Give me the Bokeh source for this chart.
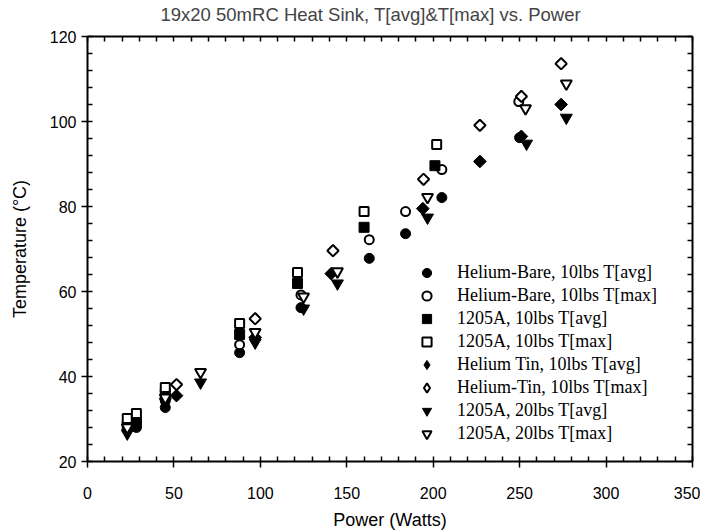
import math
from bokeh.plotting import figure
from bokeh.models import LinearAxis, Legend, LegendItem, Range1d, SingleIntervalTicker
from bokeh.embed import file_html
from bokeh.resources import INLINE

# ---- data ----
series_labels = [
    "Helium-Bare, 10lbs T[avg]",
    "Helium-Bare, 10lbs T[max]",
    "1205A, 10lbs T[avg]",
    "1205A, 10lbs T[max]",
    "Helium Tin, 10lbs T[avg]",
    "Helium-Tin, 10lbs T[max]",
    "1205A, 20lbs T[avg]",
    "1205A, 20lbs T[max]",
]

hb_avg_x = [28.3, 45.0, 88.0, 123.5, 163.0, 184.0, 205.0, 250.0]
hb_avg_y = [28.0, 32.7, 45.6, 56.2, 67.8, 73.6, 82.1, 96.2]

hb_max_x = [28.3, 45.0, 88.0, 123.5, 163.0, 184.0, 205.0, 249.5]
hb_max_y = [29.5, 34.3, 47.5, 59.2, 72.2, 78.8, 88.7, 104.7]

a10_avg_x = [23.0, 28.3, 45.0, 88.0, 121.5, 160.0, 201.0]
a10_avg_y = [28.3, 29.2, 36.0, 49.9, 61.9, 75.1, 89.6]

a10_max_x = [23.0, 28.3, 45.0, 88.0, 121.5, 160.0, 202.0]
a10_max_y = [30.1, 31.3, 37.4, 52.5, 64.5, 78.8, 94.6]

ht_avg_x = [51.5, 97.0, 141.0, 194.0, 227.0, 251.0, 274.0]
ht_avg_y = [35.5, 49.2, 64.2, 79.5, 90.6, 96.5, 104.0]

ht_max_x = [51.5, 97.0, 142.0, 194.4, 227.0, 251.0, 274.0]
ht_max_y = [38.1, 53.6, 69.6, 86.4, 99.1, 105.9, 113.6]

a20_avg_x = [23.0, 45.0, 65.4, 97.0, 125.0, 144.6, 196.7, 254.0, 277.0]
a20_avg_y = [26.6, 34.0, 38.6, 48.0, 56.0, 61.9, 77.4, 94.8, 100.9]

a20_max_x = [23.0, 45.0, 65.4, 97.0, 125.0, 144.6, 196.7, 253.4, 277.0]
a20_max_y = [28.0, 35.0, 41.0, 50.4, 58.8, 64.7, 82.2, 103.1, 108.9]

x_tick_interval = 50
y_tick_interval = 20

SANS = "Liberation Sans"
SERIF = "Liberation Serif"

p = figure(
    frame_width=605, frame_height=425,
    x_range=Range1d(0, 350), y_range=Range1d(20, 120),
    output_backend="svg", toolbar_location=None,
    min_border_left=87, min_border_right=8, min_border_top=36, min_border_bottom=70,
    background_fill_color="white", border_fill_color="white",
)
p.outline_line_color = None
p.xgrid.visible = False
p.ygrid.visible = False

p.title.text = "19x20 50mRC Heat Sink, T[avg]&T[max] vs. Power"
p.title.align = "left"
p.title.offset = 73
p.title.text_font = SANS
p.title.text_font_size = "18.5px"
p.title.text_font_style = "normal"
p.title.standoff = 2

def style_axis(ax, labels=True):
    ax.axis_line_width = 2
    ax.axis_line_color = "black"
    ax.major_tick_line_width = 1.5
    ax.minor_tick_line_width = 1.5
    ax.major_tick_line_color = "black"
    ax.minor_tick_line_color = "black"
    ax.minor_tick_in = 5
    ax.minor_tick_out = 0
    ax.major_tick_in = 0
    if labels:
        ax.major_tick_out = 6
        ax.major_label_text_font = SANS
        ax.major_label_text_font_size = "16px"
        ax.major_label_text_color = "black"
        ax.axis_label_text_font = SANS
        ax.axis_label_text_font_size = "18px"
        ax.axis_label_text_font_style = "normal"
        ax.axis_label_text_color = "black"
    else:
        ax.major_tick_out = 0
        ax.major_label_text_font_size = "1px"
        ax.major_label_text_color = None
        ax.major_label_standoff = 0

xax = p.xaxis[0]
xax.ticker = SingleIntervalTicker(interval=x_tick_interval, num_minor_ticks=5)
xax.axis_label = "Power (Watts)"
style_axis(xax)
xax.major_label_standoff = 19
xax.axis_label_standoff = 8

yax = p.yaxis[0]
yax.ticker = SingleIntervalTicker(interval=y_tick_interval, num_minor_ticks=5)
yax.axis_label = "Temperature (°C)"
style_axis(yax)
yax.major_label_standoff = 5
yax.axis_label_standoff = 17

top = LinearAxis(ticker=SingleIntervalTicker(interval=x_tick_interval, num_minor_ticks=5))
style_axis(top, labels=False)
# invisible major ticks reserve an empty band between the frame and the title
top.major_tick_out = 11
top.major_tick_line_color = None
p.add_layout(top, "above")
right = LinearAxis(ticker=SingleIntervalTicker(interval=y_tick_interval, num_minor_ticks=5))
style_axis(right, labels=False)
p.add_layout(right, "right")

rot = math.pi / 4
specs = [
    (hb_avg_x, hb_avg_y, dict(marker="circle", size=10, fill_color="black", line_color="black", line_width=1)),
    (hb_max_x, hb_max_y, dict(marker="circle", size=9, fill_color="white", line_color="black", line_width=2)),
    (a10_avg_x, a10_avg_y, dict(marker="square", size=10, fill_color="black", line_color="black", line_width=1)),
    (a10_max_x, a10_max_y, dict(marker="square", size=9, fill_color="white", line_color="black", line_width=2)),
    (ht_avg_x, ht_avg_y, dict(marker="square", size=9, angle=rot, fill_color="black", line_color="black", line_width=1)),
    (ht_max_x, ht_max_y, dict(marker="square", size=8, angle=rot, fill_color="white", line_color="black", line_width=2)),
    (a20_avg_x, a20_avg_y, dict(marker="inverted_triangle", size=12, fill_color="black", line_color="black", line_width=1)),
    (a20_max_x, a20_max_y, dict(marker="inverted_triangle", size=11, fill_color="white", line_color="black", line_width=2)),
]

items = []
for (xs, ys, kw), lab in zip(specs, series_labels):
    r = p.scatter(xs, ys, **kw)
    if kw.get("angle"):
        # the legend does not rotate markers: use a hidden diamond renderer as its swatch
        kw2 = {k: v for k, v in kw.items() if k not in ("angle", "marker", "size")}
        r = p.scatter(xs, ys, marker="diamond", size=10, visible=False, **kw2)
    items.append(LegendItem(label=lab, renderers=[r]))

legend = Legend(
    items=items,
    location=(328, 16),
    orientation="vertical",
    border_line_color=None,
    background_fill_alpha=0,
    inactive_fill_alpha=0,
    padding=0, margin=0, spacing=0,
    glyph_width=23, glyph_height=23, label_height=23,
    label_standoff=19,
    label_text_font=SERIF,
    label_text_font_size="18px",
    label_text_color="black",
    click_policy="none",
)
p.add_layout(legend, "center")

open("out.html", "w").write(file_html(p, INLINE))
